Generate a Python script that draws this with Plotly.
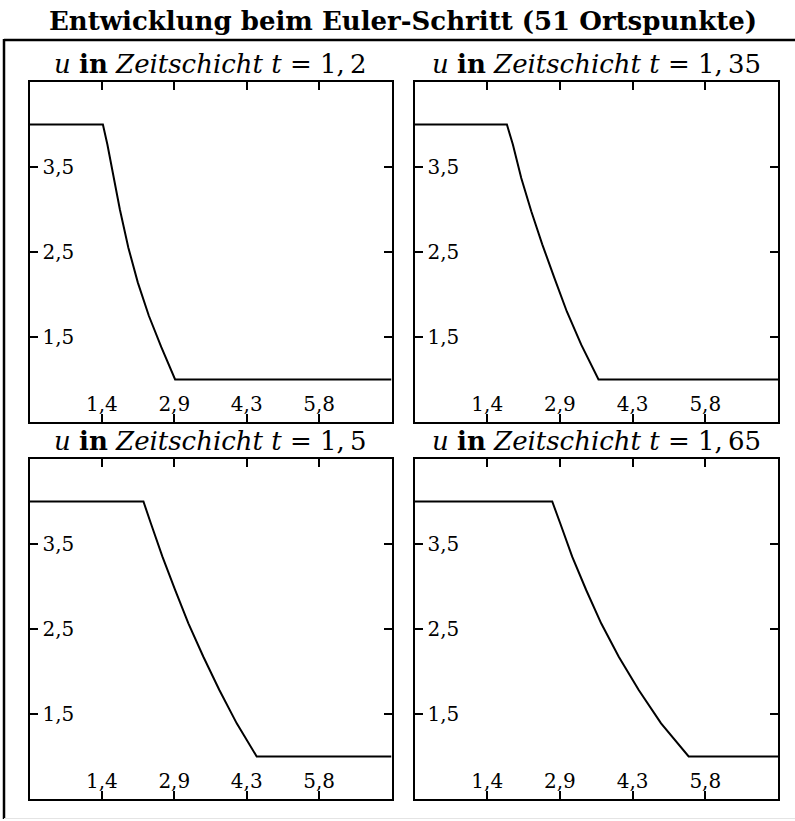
import plotly.graph_objects as go

W, H = 795, 821

# ---- data ----
x_t12 = [0.0, 1.47, 1.56, 1.66, 1.81, 1.98, 2.17, 2.39, 2.64, 2.916, 7.25]
u_t12 = [4.0, 4.0, 3.764, 3.47, 3.0, 2.55, 2.14, 1.75, 1.38, 1.0, 1.0]

x_t135 = [0.0, 1.843, 1.962, 2.129, 2.329, 2.548, 2.793, 3.038, 3.325, 3.67, 7.25]
u_t135 = [4.0, 4.0, 3.764, 3.37, 2.98, 2.59, 2.19, 1.80, 1.41, 1.0, 1.0]

x_t15 = [0.0, 2.282, 2.43, 2.662, 2.916, 3.182, 3.482, 3.802, 4.15, 4.55, 7.25]
u_t15 = [4.0, 4.0, 3.744, 3.351, 2.959, 2.567, 2.174, 1.782, 1.39, 1.0, 1.0]

x_t165 = [0.0, 2.747, 2.906, 3.145, 3.424, 3.723, 4.074, 4.472, 4.918, 5.468, 7.25]
u_t165 = [4.0, 4.0, 3.744, 3.351, 2.959, 2.567, 2.174, 1.782, 1.39, 1.0, 1.0]

times = ["1,\u20092", "1,\u200935", "1,\u20095", "1,\u200965"]

x_tickvals = [0.0, 1.45, 2.9, 4.35, 5.8, 7.25]
x_ticktext = ["", "1,4", "2,9", "4,3", "5,8", ""]
y_tickvals = [0.5, 1.5, 2.5, 3.5, 4.5]
y_ticktext = ["", "1,5", "2,5", "3,5", ""]

title = "Entwicklung beim Euler-Schritt (51 Ortspunkte)"

# ---- layout geometry (pixels) ----
cols = [(29.5, 391.5), (414.5, 778.0)]
rows = [(82.0, 422.0), (459.0, 799.0)]

FONT = "DejaVu Serif"

fig = go.Figure()
series = [(x_t12, u_t12), (x_t135, u_t135), (x_t15, u_t15), (x_t165, u_t165)]

annotations = []
for i, (xs, us) in enumerate(series):
    r, c = divmod(i, 2)
    n = "" if i == 0 else str(i + 1)
    xa, ya = "x" + n, "y" + n
    fig.add_trace(go.Scatter(x=xs, y=us, mode="lines", xaxis=xa, yaxis=ya,
                             line=dict(color="black", width=2),
                             showlegend=False, hoverinfo="skip"))
    x0, x1 = cols[c]
    y0, y1 = rows[r]
    axis_common = dict(showline=True, linecolor="black", linewidth=2, mirror="allticks",
                       ticks="inside", ticklen=8, tickwidth=1.5, tickcolor="black",
                       showgrid=False, zeroline=False, ticklabelposition="inside",
                       tickfont=dict(family=FONT, size=20, color="black"))
    fig.update_layout({
        "xaxis" + n: dict(domain=[x0 / W, x1 / W], anchor=ya, range=[0, 7.25],
                          tickmode="array", tickvals=x_tickvals, ticktext=x_ticktext,
                          ticklabelstandoff=0, **axis_common),
        "yaxis" + n: dict(domain=[1 - y1 / H, 1 - y0 / H], anchor=xa, range=[0.5, 4.5],
                          tickmode="array", tickvals=y_tickvals, ticktext=y_ticktext,
                          ticklabelstandoff=6, **axis_common),
    })
    annotations.append(dict(
        text="<i>u</i> <b>in</b> <i>Zeitschicht</i> <i>t</i> = " + times[i],
        x=(x0 + x1) / 2 / W, y=1 - (y0 - 1) / H, xref="paper", yref="paper",
        xanchor="center", yanchor="bottom", showarrow=False,
        font=dict(family=FONT, size=26, color="black")))

annotations.append(dict(text="<b>" + title + "</b>", x=403 / W, y=1 - 4 / H,
                        xref="paper", yref="paper", xanchor="center", yanchor="top",
                        showarrow=False, font=dict(family=FONT, size=26, color="black")))

shapes = [
    dict(type="line", xref="paper", yref="paper", x0=4 / W, x1=4 / W,
         y0=1 - 819 / H, y1=1 - 39 / H, line=dict(color="black", width=2.5)),
    dict(type="line", xref="paper", yref="paper", x0=4 / W, x1=1,
         y0=1 - 40 / H, y1=1 - 40 / H, line=dict(color="black", width=2.5)),
    dict(type="line", xref="paper", yref="paper", x0=4 / W, x1=1,
         y0=1 - 818.5 / H, y1=1 - 818.5 / H, line=dict(color="#e4e4e4", width=1)),
]

fig.update_layout(width=W, height=H, margin=dict(l=0, r=0, t=0, b=0),
                  paper_bgcolor="white", plot_bgcolor="white",
                  annotations=annotations, shapes=shapes)

fig.write_html("out.html")
